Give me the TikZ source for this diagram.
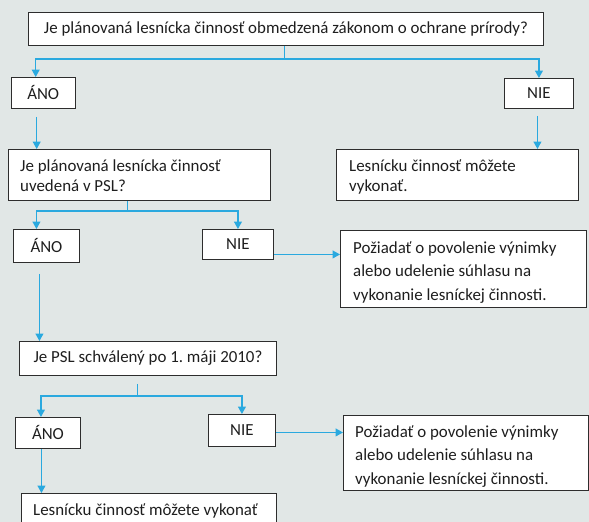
\documentclass[tikz,border=0pt]{standalone}
\usepackage{fontspec}
\setmainfont{Carlito}
\usetikzlibrary{arrows.meta,calc}
\definecolor{bgc}{RGB}{225,231,230}
\definecolor{arrc}{RGB}{42,169,223}
\definecolor{boxc}{RGB}{45,45,45}
\definecolor{txtc}{RGB}{30,30,30}
\tikzset{
  box/.style={draw=boxc, fill=white, text=txtc, line width=0.9pt, anchor=north west, inner sep=0pt, font=\fontsize{16.9}{19.3}\selectfont},
  txt/.style={anchor=base west, text=txtc, inner sep=0pt, align=left, font=\fontsize{16.9}{19.3}\selectfont},
  txtw/.style={txt, font=\fontsize{16.9}{23.5}\selectfont},
  conn/.style={draw=arrc, line width=1.2pt},
  arr/.style={conn, -{Triangle[width=8pt,length=7.5pt]}}
}
\begin{document}
\frenchspacing
\begin{tikzpicture}[x=1pt,y=-1pt]
\fill[bgc] (0,0) rectangle (589,522);
\useasboundingbox (0,0) rectangle (589,522);
\clip (0,0) rectangle (589,522);
% boxes
\node[box, minimum width=515, minimum height=33] (q1) at (28,12) {Je plánovaná lesnícka činnosť obmedzená zákonom o ochrane prírody?};
\node[box, minimum width=64.5, minimum height=31] (ano1) at (10.5,77) {ÁNO};
\node[box, minimum width=69, minimum height=30] (nie1) at (504,78) {NIE};
\node[box, minimum width=262, minimum height=51] (q2) at (8,149) {};
\node[txt] (q2t) at (20,191) {Je plánovaná lesnícka činnosť\\uvedená v PSL?};
\node[box, minimum width=242, minimum height=51] (ok1) at (336,149) {};
\node[txt] (ok1t) at (349,191) {Lesnícku činnosť môžete\\vykonať.};
\node[box, minimum width=66, minimum height=33] (ano2) at (13,229) {ÁNO};
\node[box, minimum width=71, minimum height=30] (nie2) at (202,229) {NIE};
\node[box, minimum width=246, minimum height=77] (req1) at (340,230) {};
\node[txtw] (req1t) at (353,300) {Požiadať o povolenie výnimky\\alebo udelenie súhlasu na\\vykonanie lesníckej činnosti.};
\node[box, minimum width=257, minimum height=34] (q3) at (19,341) {Je PSL schválený po 1. máji 2010?};
\node[box, minimum width=65, minimum height=31] (ano3) at (15,417) {ÁNO};
\node[box, minimum width=67, minimum height=32] (nie3) at (208,414) {NIE};
\node[box, minimum width=245, minimum height=75] (req2) at (343,415) {};
\node[txtw] (req2t) at (355,484) {Požiadať o povolenie výnimky\\alebo udelenie súhlasu na\\vykonanie lesníckej činnosti.};
\node[box, minimum width=255, minimum height=45] (ok2) at (21,493) {};
\node[txt] (ok2t) at (33,515) {Lesnícku činnosť môžete vykonať};
% connectors
\draw[conn] ([xshift=-1.5]q1.south) -- ++(0,13) coordinate (b1);
\draw[arr] (b1) -| ([xshift=-7.5]ano1.north);
\draw[arr] (b1) -| (nie1.north);
\draw[arr] ([xshift=-6.5,yshift=-8]ano1.south) -- ([xshift=-6.5]ano1.south |- q2.north);
\draw[arr] ([xshift=-1.5,yshift=-7]nie1.south) -- ([xshift=-1.5]nie1.south |- ok1.north);
\draw[conn] ([xshift=-12]q2.south) -- ++(0,10) coordinate (b2);
\draw[arr] (b2) -| ([xshift=-10]ano2.north);
\draw[arr] (b2) -| (nie2.north);
\draw[arr] ([yshift=-10]nie2.east) -- ([yshift=-10]nie2.east -| req1.west);
\draw[arr] ([xshift=-7,yshift=-11]ano2.south) -- ([xshift=-7]ano2.south |- q3.north);
\draw[conn] ([xshift=-10.5,yshift=-8]q3.south) -- ++(0,12) coordinate (b3);
\draw[arr] (b3) -| ([xshift=-7]ano3.north);
\draw[arr] (b3) -| (nie3.north);
\draw[arr] ([yshift=-2]nie3.east) -- ([yshift=-2]nie3.east -| req2.west);
\draw[arr] ([xshift=-6.5]ano3.south) -- ([xshift=-6.5]ano3.south |- ok2.north);
\end{tikzpicture}
\end{document}
